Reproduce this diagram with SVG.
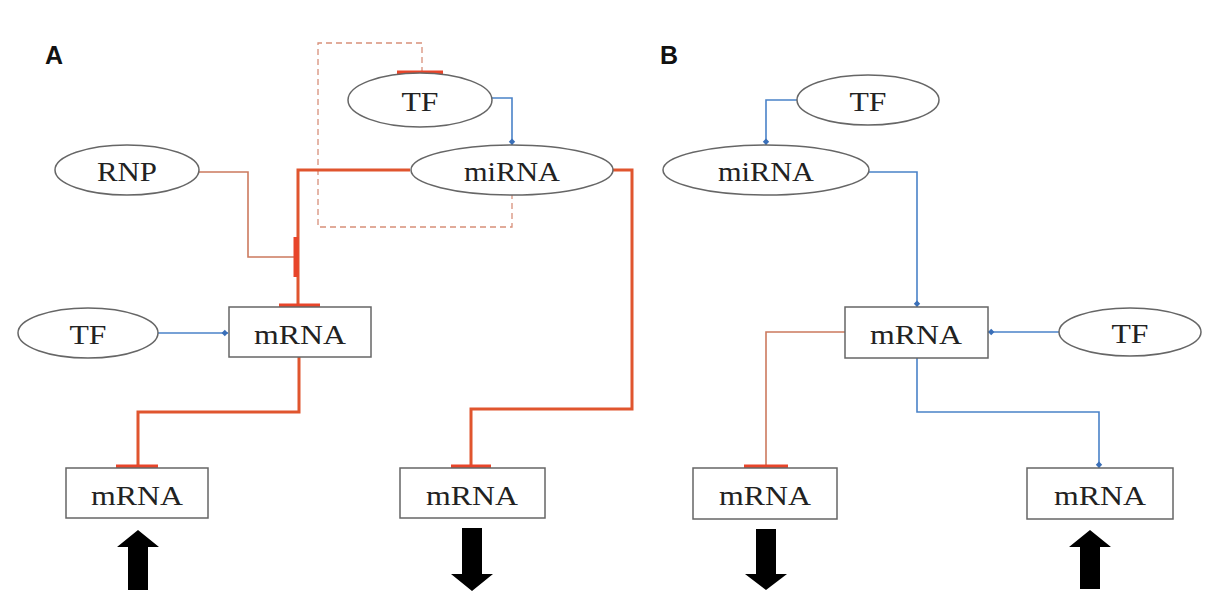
<svg xmlns="http://www.w3.org/2000/svg" width="1205" height="604" viewBox="0 0 1205 604">
<style>
.node ellipse,.node rect{fill:#fff;stroke:#666;stroke-width:1.5}
.node text{font-family:"Liberation Serif",serif;font-size:28px;fill:#222;text-anchor:middle}
.lbl{font-family:"Liberation Sans",sans-serif;font-weight:bold;font-size:25px;fill:#111}
.red{fill:none;stroke:#e0552e;stroke-width:3}
.thin{fill:none;stroke:#cc7a5e;stroke-width:1.6}
.blue{fill:none;stroke:#4a82c8;stroke-width:1.6}
.bar{stroke:#e8452a;stroke-width:5;fill:none}
.dash{fill:none;stroke:#d8907a;stroke-width:1.3;stroke-dasharray:6 4}
.blk{fill:#000}
</style>
<defs>
<marker id="dot" viewBox="0 0 10 10" refX="9" refY="5" markerWidth="8" markerHeight="8" orient="auto" markerUnits="userSpaceOnUse">
<path d="M1,5 L5,1 L9,5 L5,9 Z" fill="#3a6fb8"/>
</marker>
</defs>
<text class="lbl" x="45" y="64">A</text>
<text class="lbl" x="660" y="64">B</text>
<g id="connectors">
<path class="dash" d="M422,73 V43 H318 V227 H512 V195"/>
<path class="blue" d="M492,98 H512 V145" marker-end="url(#dot)"/>
<path class="red" d="M410,170 H298 V307"/>
<path class="thin" d="M198,172 H248 V257 H296"/>
<path class="blue" d="M158,333 H228" marker-end="url(#dot)"/>
<path class="red" d="M299,357 V412 H138 V468"/>
<path class="red" d="M613,170 H632 V409 H471 V468"/>
<path class="blue" d="M797,100 H766 V145" marker-end="url(#dot)"/>
<path class="blue" d="M869,172 H917 V307" marker-end="url(#dot)"/>
<path class="blue" d="M1059,332 H988" marker-end="url(#dot)"/>
<path class="thin" d="M845,332 H766 V468"/>
<path class="blue" d="M917,358 V412 H1099 V468" marker-end="url(#dot)"/>
<line class="bar" x1="397" y1="73" x2="443" y2="73"/>
<line class="bar" x1="296" y1="237" x2="296" y2="277"/>
<line class="bar" x1="279" y1="306" x2="320" y2="306"/>
<line class="bar" x1="116" y1="467" x2="158" y2="467"/>
<line class="bar" x1="451" y1="467" x2="491" y2="467"/>
<line class="bar" x1="744" y1="467" x2="788" y2="467"/>
</g>
<g id="tf_a_top" class="node"><ellipse cx="420" cy="100" rx="72" ry="27"/><text x="420" y="111" textLength="37" lengthAdjust="spacingAndGlyphs">TF</text></g>
<g id="mirna_a" class="node"><ellipse cx="512" cy="170" rx="101" ry="25"/><text x="512" y="181" textLength="96" lengthAdjust="spacingAndGlyphs">miRNA</text></g>
<g id="rnp_a" class="node"><ellipse cx="127" cy="170" rx="72" ry="25"/><text x="127" y="181" textLength="60" lengthAdjust="spacingAndGlyphs">RNP</text></g>
<g id="tf_a_left" class="node"><ellipse cx="88" cy="333" rx="70" ry="25"/><text x="88" y="344" textLength="37" lengthAdjust="spacingAndGlyphs">TF</text></g>
<g id="mrna_a" class="node"><rect x="229" y="307" width="142" height="50"/><text x="300" y="344" textLength="92" lengthAdjust="spacingAndGlyphs">mRNA</text></g>
<g id="mrna_a_left" class="node"><rect x="66" y="468" width="142" height="50"/><text x="137" y="505" textLength="92" lengthAdjust="spacingAndGlyphs">mRNA</text></g>
<g id="mrna_a_mid" class="node"><rect x="400" y="468" width="145" height="50"/><text x="472" y="505" textLength="92" lengthAdjust="spacingAndGlyphs">mRNA</text></g>
<g id="tf_b_top" class="node"><ellipse cx="868" cy="100" rx="71" ry="25"/><text x="868" y="111" textLength="37" lengthAdjust="spacingAndGlyphs">TF</text></g>
<g id="mirna_b" class="node"><ellipse cx="766" cy="170" rx="103" ry="25"/><text x="766" y="181" textLength="96" lengthAdjust="spacingAndGlyphs">miRNA</text></g>
<g id="mrna_b" class="node"><rect x="845" y="307" width="143" height="51"/><text x="916" y="344" textLength="92" lengthAdjust="spacingAndGlyphs">mRNA</text></g>
<g id="tf_b_right" class="node"><ellipse cx="1130" cy="332" rx="71" ry="24"/><text x="1130" y="343" textLength="37" lengthAdjust="spacingAndGlyphs">TF</text></g>
<g id="mrna_b_left" class="node"><rect x="693" y="468" width="144" height="51"/><text x="765" y="505" textLength="92" lengthAdjust="spacingAndGlyphs">mRNA</text></g>
<g id="mrna_b_right" class="node"><rect x="1027" y="468" width="146" height="51"/><text x="1100" y="505" textLength="92" lengthAdjust="spacingAndGlyphs">mRNA</text></g>
<g id="arrow_a_up"><path class="blk" d="M138,530 L159,547 L148,547 L148,590 L128,590 L128,547 L117,547 Z"/></g>
<g id="arrow_a_down"><path class="blk" d="M462,528 L482,528 L482,574 L493,574 L472,591 L451,574 L462,574 Z"/></g>
<g id="arrow_b_down"><path class="blk" d="M756,529 L776,529 L776,574 L787,574 L766,590 L745,574 L756,574 Z"/></g>
<g id="arrow_b_up"><path class="blk" d="M1090,530 L1111,547 L1100,547 L1100,589 L1080,589 L1080,547 L1069,547 Z"/></g>
</svg>
